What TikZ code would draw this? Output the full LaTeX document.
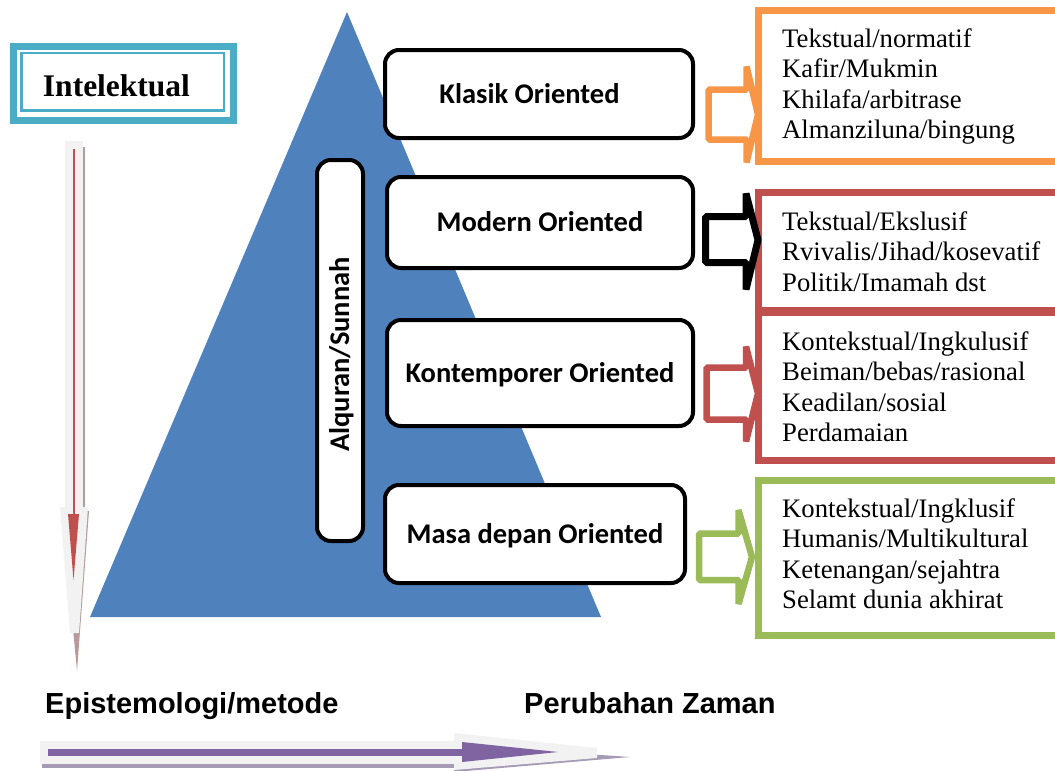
\documentclass[tikz,border=0pt]{standalone}
\usepackage{fontspec}
\setmainfont{Liberation Serif}
\newfontfamily\calfont{Carlito}
\newfontfamily\arialfont{Liberation Sans}
\definecolor{triblue}{HTML}{4F81BD}
\definecolor{tealc}{HTML}{4BACC6}
\definecolor{orangec}{HTML}{F79646}
\definecolor{redc}{HTML}{C0504D}
\definecolor{greenc}{HTML}{9BBB59}
\definecolor{purplec}{HTML}{8064A2}
\definecolor{lgray}{HTML}{F2F2F2}
\definecolor{rshadow}{HTML}{B89A9A}
\definecolor{pshadow}{HTML}{A69BB4}
\begin{document}
\begin{tikzpicture}[x=1pt,y=-1pt,
  rbox/.style={draw=black, line width=4pt, rounded corners=14pt, fill=white, inner sep=0pt,
    font=\calfont\bfseries\fontsize{28.5}{34}\selectfont, text height=18.4pt, text depth=0pt},
  rtbox/.style={line width=7pt, outer sep=0pt, anchor=north west, inner sep=0pt, minimum width=330pt},
  rtext/.style={anchor=base west, inner sep=0pt, font=\fontsize{26.7}{30.5}\selectfont},
  barrow/.style={line width=6.5pt, line join=bevel, fill=white},
  blabel/.style={anchor=base west, inner sep=0pt, font=\arialfont\bfseries\fontsize{29}{34}\selectfont}
]
\useasboundingbox (0,0) rectangle (1055,771);
\clip (0,0) rectangle (1055,771);

% ---- vertical arrow (left) ----
\fill[rshadow] (81.7,147) rectangle (85,508);
\fill[rshadow] (62,511) -- (89,511) -- (77,671) -- cycle;
\fill[lgray] (65,141) rectangle (83,507);
\fill[lgray] (60,507) -- (88,507) -- (79,633) -- (70,633) -- cycle;
\fill[redc] (72.7,149) rectangle (74.7,515);
\fill[redc] (68,514) -- (79,514) -- (73.5,580) -- cycle;

% ---- horizontal arrow (bottom) ----
\fill[pshadow] (42,764) rectangle (454,768);
\fill[pshadow] (454,772) -- (630,757) -- (454,745) -- cycle;
\fill[lgray] (40,741) rectangle (454,764);
\fill[lgray] (454,733) -- (597,748) -- (597,758) -- (454,770) -- cycle;
\fill[purplec] (48,748.5) rectangle (462,755.5);
\fill[purplec] (462,742) -- (558,752) -- (462,762) -- cycle;

% ---- triangle ----
\fill[triblue] (347,12) -- (601,617) -- (90,617) -- cycle;

% ---- Intelektual ----
\node[draw=tealc, line width=7pt, outer sep=0pt, inner sep=0pt,
      minimum width=219.3pt, minimum height=74.7pt] (intel) at (123.35,83.35) {};
\draw[tealc, line width=2.5pt] ([shift={(7.6,6.8)}]intel.north west)
      rectangle ([shift={(-9,-10)}]intel.south east);
\node[font=\bfseries\fontsize{31.5}{36}\selectfont, anchor=base, inner sep=0pt]
      (intelt) at (116.5,96) {Intelektual};

% ---- rounded boxes ----
\node[rbox, minimum width=308pt, minimum height=88pt] (klasik) at (539,94) {\kern-19pt Klasik Oriented};
\node[rbox, minimum width=306pt, minimum height=91pt] (modern) at (540,222.5) {Modern Oriented};
\node[rbox, minimum width=306pt, minimum height=106pt] (kontemp) at (540,373) {Kontemporer Oriented};
\node[rbox, minimum width=300pt, minimum height=98pt] (masa) at (535,534) {Masa depan Oriented};
\node[rbox, rotate=90, minimum width=381pt, minimum height=46pt] (alq) at (340,350.5) {\kern-8pt Alquran/Sunnah};

% ---- right boxes ----
\node[rtbox, draw=orangec, minimum height=151.5pt] (ob) at (758.5,10) {};
\node[rtbox, draw=redc, minimum height=117.5pt] (rb1) at (758.5,192.5) {};
\node[rtbox, draw=redc, minimum height=148pt] (rb2) at (758.5,312) {};
\node[rtbox, draw=greenc, minimum height=155pt] (gb) at (758.5,480) {};

\foreach \t [count=\i] in {Tekstual/normatif, Kafir/Mukmin, Khilafa/arbitrase, Almanziluna/bingung}
  \node[rtext] (oa\i) at (782,{47+30.5*(\i-1)}) {\t};
\foreach \t [count=\i] in {Tekstual/Ekslusif, Rvivalis/Jihad/kosevatif, Politik/Imamah dst}
  \node[rtext] (ra\i) at (782,{230+30.5*(\i-1)}) {\t};
\foreach \t [count=\i] in {Kontekstual/Ingkulusif, Beiman/bebas/rasional, Keadilan/sosial, Perdamaian}
  \node[rtext] (rb\i) at (782,{350+30.5*(\i-1)}) {\t};
\foreach \t [count=\i] in {Kontekstual/Ingklusif, Humanis/Multikultural, Ketenangan/sejahtra, Selamt dunia akhirat}
  \node[rtext] (ga\i) at (782,{517+30.5*(\i-1)}) {\t};

% ---- block arrows ----
\draw[barrow, draw=orangec] (708.5,89.5) -- (746.5,89.5) -- (746.5,66.5) -- (758,114.5)
   -- (746.5,162.5) -- (746.5,139.5) -- (708.5,139.5) -- cycle;
\draw[barrow, draw=black, line width=7pt] (705.5,216.5) -- (746,216.5) -- (746,193.5) -- (758,240)
   -- (746,289.5) -- (746,262.5) -- (705.5,262.5) -- cycle;
\draw[barrow, draw=redc] (706.5,367.5) -- (746,367.5) -- (746,346.5) -- (758,393.5)
   -- (746,441.5) -- (746,419.5) -- (706.5,419.5) -- cycle;
\draw[barrow, draw=greenc] (699,533.5) -- (738.5,533.5) -- (738.5,510) -- (752,557)
   -- (738.5,604) -- (738.5,580) -- (699,580) -- cycle;

% ---- bottom labels ----
\node[blabel] (epi) at (45,713) {Epistemologi/metode};
\node[blabel] (perub) at (524,713) {Perubahan Zaman};
\end{tikzpicture}
\end{document}
